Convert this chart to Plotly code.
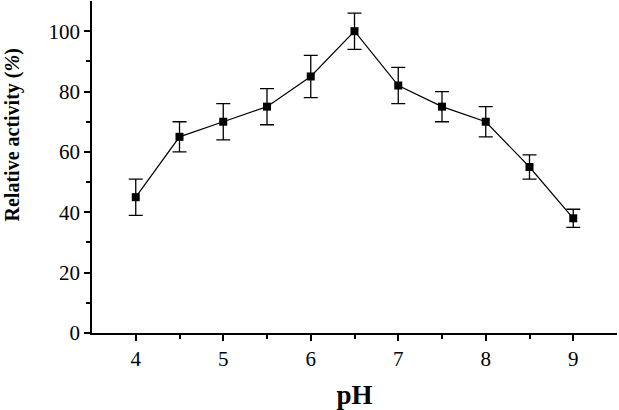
import plotly.graph_objects as go

ph = [4, 4.5, 5, 5.5, 6, 6.5, 7, 7.5, 8, 8.5, 9]
activity = [45, 65, 70, 75, 85, 100, 82, 75, 70, 55, 38]
err = [6, 5, 6, 6, 7, 6, 6, 5, 5, 4, 3]

fig = go.Figure()
fig.add_trace(go.Scatter(
    x=ph, y=activity, mode='lines+markers',
    line=dict(color='black', width=1.2),
    marker=dict(symbol='square', size=8, color='black'),
    error_y=dict(type='data', array=err, visible=True, color='black', thickness=1.3, width=7),
    showlegend=False,
))

font = 'Liberation Serif'
fig.update_layout(
    width=619, height=410,
    margin=dict(l=92, r=2, t=1, b=77),
    plot_bgcolor='white', paper_bgcolor='white',
    font=dict(family=font, color='black', size=21),
)
fig.update_xaxes(
    range=[3.5, 9.5], tickvals=[4, 5, 6, 7, 8, 9],
    showline=True, linecolor='black', linewidth=1.5, mirror=False,
    ticks='outside', ticklen=6, tickwidth=1.5, tickcolor='black',
    minor=dict(tickvals=[4.5, 5.5, 6.5, 7.5, 8.5], ticks='outside', ticklen=4, tickwidth=1.5, tickcolor='black'),
    showgrid=False, zeroline=False,
    title=dict(text='<b>pH</b>', font=dict(size=27, family=font), standoff=16),
)
fig.update_yaxes(
    range=[0, 110], tickvals=[0, 20, 40, 60, 80, 100],
    showline=True, linecolor='black', linewidth=1.5,
    ticks='outside', ticklen=6, tickwidth=1.5, tickcolor='black',
    minor=dict(tickvals=[10, 30, 50, 70, 90], ticks='outside', ticklen=4, tickwidth=1.5, tickcolor='black'),
    showgrid=False, zeroline=False,
)
fig.add_annotation(
    text='<b>Relative activity (<i>%</i>)</b>', textangle=-90,
    xref='paper', yref='paper', x=0, y=0.595, xanchor='center', yanchor='middle',
    xshift=-80, showarrow=False, font=dict(size=20, family=font),
)

fig.write_html("out.html", config={'displayModeBar': False},
               post_script="document.body.style.margin='0';")
